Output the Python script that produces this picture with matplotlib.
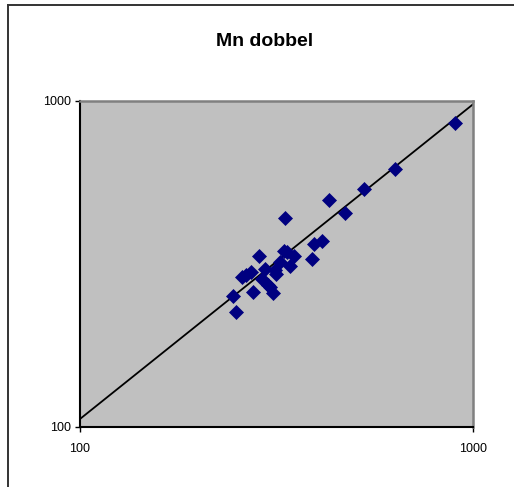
import matplotlib
matplotlib.use("Agg")
import matplotlib.pyplot as plt
from matplotlib.lines import Line2D
import numpy as np

plt.rcParams['font.family'] = ['Liberation Sans', 'DejaVu Sans']

# Paired Mn measurements (first vs. second determination)
mn_first = [902, 632, 527, 430, 472, 333, 413, 394, 390, 286, 330, 351,
            342, 323, 313, 315, 265, 273, 259, 295, 290, 301, 310, 275,
            245, 249, 304, 336]
mn_second = [852, 616, 536, 495, 453, 437, 371, 363, 327, 334, 347, 334,
             312, 321, 303, 294, 292, 299, 288, 305, 283, 272, 258, 259,
             251, 225, 269, 344]

# Power trend line y = a * x^b
trend_a = 1.239
trend_b = 0.9653

title = "Mn dobbel"
tick_values = [100, 1000]
tick_labels = ["100", "1000"]

fig = plt.figure(figsize=(5.14, 4.87), dpi=100)
ax = fig.add_axes([0.1556, 0.1238, 0.7646, 0.6694])
ax.set_facecolor("#C0C0C0")

ax.set_xscale("log")
ax.set_yscale("log")
ax.set_xlim(100, 1000)
ax.set_ylim(100, 1000)

xt = np.array([100.0, 1000.0])
ax.plot(xt, trend_a * xt ** trend_b, color="black", lw=1.3, zorder=2)

ax.plot(mn_first, mn_second, linestyle="none", marker="D", ms=7.5,
        color="#000080", markeredgecolor="#000080", markeredgewidth=0.5,
        zorder=3, clip_on=False)

ax.set_xticks(tick_values)
ax.set_xticklabels(tick_labels)
ax.set_yticks(tick_values)
ax.set_yticklabels(tick_labels)
ax.minorticks_off()
ax.tick_params(axis="both", direction="out", length=3.5, width=1,
               labelsize=9, color="black", labelcolor="black")
ax.tick_params(axis="x", pad=8)
ax.tick_params(axis="y", pad=3)

for side in ("left", "bottom"):
    ax.spines[side].set_color("black")
    ax.spines[side].set_linewidth(1.5)
for side in ("top", "right"):
    ax.spines[side].set_color("#808080")
    ax.spines[side].set_linewidth(1.8)

fig.text(0.514, 1 - 41.5 / 487, title, ha="center", va="center",
         fontsize=14, fontweight="bold")

# Chart area frame (left and top edges)
fig.add_artist(Line2D([8 / 514, 8 / 514], [0, 1 - 5 / 487],
                      transform=fig.transFigure, color="#333333", lw=1.4))
fig.add_artist(Line2D([8 / 514, 1], [1 - 5 / 487, 1 - 5 / 487],
                      transform=fig.transFigure, color="#333333", lw=1.4))

fig.savefig("out.png", dpi=100)
